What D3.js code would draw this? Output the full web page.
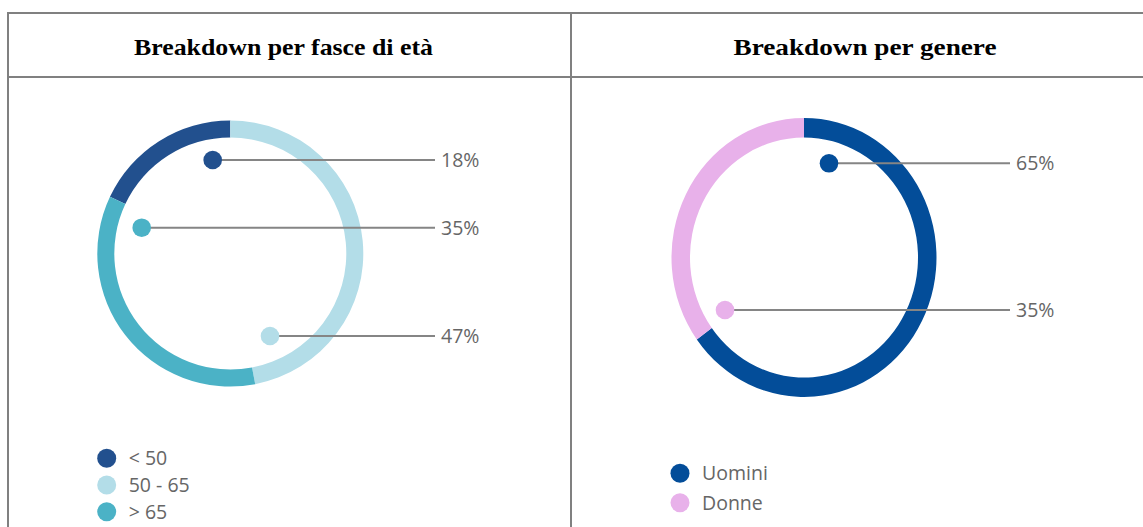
<!DOCTYPE html>
<html>
<head>
<meta charset="utf-8">
<script src="https://cdn.jsdelivr.net/npm/d3@7"></script>
<style>
  body { margin: 0; background: #fff; }
</style>
</head>
<body>
<div id="chart"></div>
<script>
// data
const ageCategories = ["< 50", "50 - 65", "> 65"];
const ageValues = [18, 47, 35];
const ageColors = ["#22508e", "#b3dde8", "#4bb2c6"];

const genderCategories = ["Uomini", "Donne"];
const genderValues = [65, 35];
const genderColors = ["#034d99", "#e8b1ea"];

const titles = ["Breakdown per fasce di età", "Breakdown per genere"];

const width = 1143, height = 527;

const svg = d3.select("#chart").append("svg")
    .attr("width", width)
    .attr("height", height);

// table grid
const grid = svg.append("g").attr("stroke", "#808080").attr("stroke-width", 2);
grid.append("line").attr("x1", 8).attr("x2", width).attr("y1", 13).attr("y2", 13);
grid.append("line").attr("x1", 8).attr("x2", width).attr("y1", 77).attr("y2", 77);
grid.append("line").attr("x1", 8).attr("x2", 8).attr("y1", 12).attr("y2", height);
grid.append("line").attr("x1", 571).attr("x2", 571).attr("y1", 12).attr("y2", height);

// headers
const headerPos = [{x: 283.5, w: 299}, {x: 865, w: 263}];
svg.selectAll("text.title")
    .data(titles)
    .join("text")
    .attr("class", "title")
    .attr("x", (d, i) => headerPos[i].x)
    .attr("y", 54.5)
    .attr("text-anchor", "middle")
    .attr("textLength", (d, i) => headerPos[i].w)
    .attr("lengthAdjust", "spacingAndGlyphs")
    .style("font-family", "'Liberation Serif', 'Times New Roman', serif")
    .style("font-weight", "bold")
    .style("font-size", "24px")
    .text(d => d);

function donut(opts) {
    const total = d3.sum(opts.values);
    const pie = d3.pie().sort(null)
        .startAngle(opts.start * 2 * Math.PI / total)
        .endAngle(opts.start * 2 * Math.PI / total + 2 * Math.PI);
    const arc = d3.arc().innerRadius(opts.inner).outerRadius(opts.outer);
    const color = d3.scaleOrdinal().domain(opts.categories).range(opts.colors);

    const data = opts.categories.map((c, i) => ({ cat: c, value: opts.values[i] }));

    const g = svg.append("g")
        .attr("transform", `translate(${opts.cx},${opts.cy})`);

    g.append("g")
        .attr("transform", `scale(1,${opts.sy})`)
        .selectAll("path")
        .data(pie.value(d => d.value)(data))
        .join("path")
        .attr("d", arc)
        .attr("fill", d => color(d.data.cat));

    // callouts
    const fmt = d => d + "%";
    const callouts = g.selectAll("g.callout")
        .data(data)
        .join("g")
        .attr("class", "callout");
    callouts.append("line")
        .attr("x1", (d, i) => opts.dots[i][0])
        .attr("y1", (d, i) => opts.dots[i][1])
        .attr("x2", opts.lineEnd - opts.cx)
        .attr("y2", (d, i) => opts.dots[i][1])
        .attr("stroke", "#858585")
        .attr("stroke-width", 2);
    callouts.append("circle")
        .attr("cx", (d, i) => opts.dots[i][0])
        .attr("cy", (d, i) => opts.dots[i][1])
        .attr("r", 9.3)
        .attr("fill", d => color(d.cat));
    callouts.append("text")
        .attr("x", opts.lineEnd - opts.cx + 6)
        .attr("y", (d, i) => opts.dots[i][1] + 7)
        .style("font-family", "'Open Sans', sans-serif")
        .style("font-size", "19.5px")
        .attr("fill", "#666")
        .text(d => fmt(d.value));

    // legend
    const legend = svg.append("g")
        .selectAll("g")
        .data(data)
        .join("g")
        .attr("transform", (d, i) => `translate(${opts.legendX},${opts.legendY + i * opts.legendStep})`);
    legend.append("circle")
        .attr("r", 9.5)
        .attr("fill", d => color(d.cat));
    legend.append("text")
        .attr("x", opts.legendText)
        .attr("y", 7)
        .style("font-family", "'Open Sans', sans-serif")
        .style("font-size", "19.5px")
        .attr("fill", "#666")
        .text(d => d.cat);
}

donut({
    categories: ageCategories, values: ageValues, colors: ageColors,
    start: -ageValues[0],
    cx: 230.3, cy: 253.5, outer: 133, inner: 116, sy: 1,
    dots: [[-17.6, -93.5], [39.7, 82.5], [-88.6, -25.8]],
    lineEnd: 435,
    legendX: 106.7, legendY: 458.3, legendStep: 26.7, legendText: 22
});

donut({
    categories: genderCategories, values: genderValues, colors: genderColors,
    start: 0,
    cx: 804, cy: 257.5, outer: 132.5, inner: 114, sy: 1.053,
    dots: [[25, -94.2], [-79, 52.5]],
    lineEnd: 1010,
    legendX: 680, legendY: 473.3, legendStep: 29.4, legendText: 22
});
</script>
</body>
</html>
